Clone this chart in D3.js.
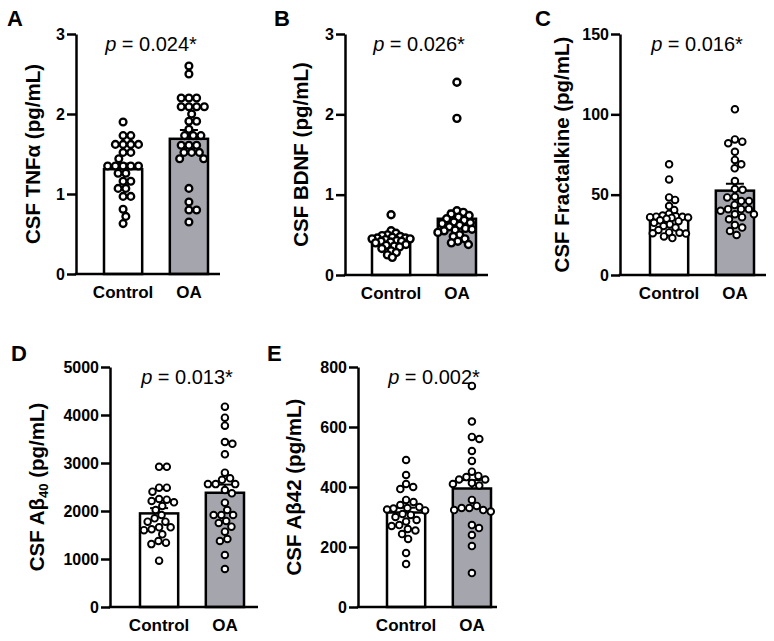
<!DOCTYPE html>
<html><head><meta charset="utf-8">
<script src="https://cdn.jsdelivr.net/npm/d3@7"></script>
<style>
body{margin:0;background:#fff}
svg{display:block}
text{font-family:"Liberation Sans",Arial,sans-serif}
</style>
</head><body>
<svg id="chart" width="774" height="641"></svg>
<script>
// ---------------- DATA ----------------
const groups = ["Control", "OA"];

// A: CSF TNFα (pg/mL)
const tnfControl = [1.90,1.73,1.73,1.62,1.62,1.62,1.62,1.52,1.52,1.44,1.35,1.35,1.35,1.35,1.35,1.26,1.26,1.16,1.16,1.07,1.07,0.97,0.97,0.81,0.72,0.63];
const tnfOA = [2.60,2.50,2.20,2.20,2.20,2.09,2.09,2.09,2.09,2.00,1.91,1.91,1.81,1.73,1.73,1.73,1.61,1.61,1.61,1.52,1.52,1.52,1.44,1.44,1.07,0.90,0.80,0.80,0.65];
const tnfMean = [1.31, 1.69];
const tnfSEM = [0.07, 0.11];
const tnfTicks = [0, 1, 2, 3];

// B: CSF BDNF (pg/mL)
const bdnfControl = [0.75,0.55,0.52,0.50,0.49,0.48,0.47,0.46,0.46,0.45,0.45,0.44,0.43,0.42,0.42,0.41,0.40,0.38,0.37,0.36,0.35,0.33,0.30,0.28,0.25,0.22];
const bdnfOA = [2.40,1.95,0.80,0.78,0.76,0.74,0.72,0.70,0.68,0.66,0.65,0.64,0.62,0.60,0.58,0.57,0.56,0.55,0.53,0.50,0.48,0.45,0.42,0.40,0.38];
const bdnfMean = [0.43, 0.70];
const bdnfSEM = [0.03, 0.10];
const bdnfTicks = [0, 1, 2, 3];

// C: CSF Fractalkine (pg/mL)
const fktControl = [68.9,59.5,48.3,46.7,42.9,40.4,38,37,36.5,36.3,36.2,36,35.8,35.5,35,34,33.5,32.5,31.5,30.5,29.5,28,26.5,26.3,26,25.8,24,23];
const fktOA = [103.1,84.4,83,82,76.7,71.6,68.9,66.4,58.5,53.5,53,48.7,48.3,46,46,43.6,41,41,41,40,37.8,37.8,36,34.7,31.1,29.5,27.4,24.9];
const fktMean = [36.3, 52.5];
const fktSEM = [2.1, 4.3];
const fktTicks = [0, 50, 100, 150];

// D: CSF Aβ40 (pg/mL)
const ab40Control = [2920,2920,2486,2486,2403,2250,2236,2208,2180,2104,2021,1917,1847,1778,1778,1660,1660,1620,1600,1514,1375,1340,1310,965];
const ab40OA = [4174,3944,3778,3438,3400,3180,2799,2680,2650,2560,2560,2560,2437,2368,2174,2021,1917,1917,1917,1792,1750,1674,1569,1417,1375,1083,792];
const ab40Mean = [1950, 2380];
const ab40SEM = [110, 170];
const ab40Ticks = [0, 1000, 2000, 3000, 4000, 5000];

// E: CSF Aβ42 (pg/mL)
const ab42Control = [490,440,410,400,393,357,350,340,333,330,328,325,322,310,307,300,290,285,273,270,260,255,243,227,180,143];
const ab42OA = [737,618,567,560,520,487,451,437,433,425,425,413,410,405,357,337,330,330,323,323,318,273,263,240,203,113];
const ab42Mean = [315, 395];
const ab42SEM = [16, 28];
const ab42Ticks = [0, 200, 400, 600, 800];

const pValues = ["0.024*", "0.026*", "0.016*", "0.013*", "0.002*"];
const panelLetters = ["A", "B", "C", "D", "E"];

// ---------------- LAYOUT ----------------
const svg = d3.select("#chart");
const panels = [
  {letter: panelLetters[0], p: pValues[0], ctrl: tnfControl, oa: tnfOA, mean: tnfMean, sem: tnfSEM, ticks: tnfTicks,
   axisX: 76, top: 34, bot: 274, barStart: 104, axisEnd: 220, lx: 7, ly: 26, ylx: 33, title: [["CSF TNFα (pg/mL)", false]], letterFont: "Liberation Sans", r: 3.4, sw: 2.3, gap: [7.7, 7.7]},
  {letter: panelLetters[1], p: pValues[1], ctrl: bdnfControl, oa: bdnfOA, mean: bdnfMean, sem: bdnfSEM, ticks: bdnfTicks,
   axisX: 345, top: 34, bot: 275, barStart: 372, axisEnd: 488, lx: 274, ly: 26, ylx: 301, title: [["CSF BDNF (pg/mL)", false]], letterFont: "Lato", r: 3.5, sw: 2.4, gap: [5.4, 6.6]},
  {letter: panelLetters[2], p: pValues[2], ctrl: fktControl, oa: fktOA, mean: fktMean, sem: fktSEM, ticks: fktTicks,
   axisX: 620, top: 34, bot: 275, barStart: 650, axisEnd: 766, lx: 535, ly: 26, ylx: 562, title: [["CSF Fractalkine (pg/mL)", false]], letterFont: "Lato", r: 3.3, sw: 1.9, gap: [6.5, 7.7]},
  {letter: panelLetters[3], p: pValues[3], ctrl: ab40Control, oa: ab40OA, mean: ab40Mean, sem: ab40SEM, ticks: ab40Ticks,
   axisX: 110, top: 367, bot: 607, barStart: 140, axisEnd: 258, lx: 11, ly: 361, ylx: 37, title: [["CSF Aβ", false], ["40", true], [" (pg/mL)", false]], letterFont: "Liberation Sans", r: 3.3, sw: 1.9, gap: [7.7, 7.7]},
  {letter: panelLetters[4], p: pValues[4], ctrl: ab42Control, oa: ab42OA, mean: ab42Mean, sem: ab42SEM, ticks: ab42Ticks,
   axisX: 358, top: 367, bot: 607, barStart: 387, axisEnd: 497, lx: 267, ly: 361, ylx: 294, title: [["CSF Aβ42 (pg/mL)", false]], letterFont: "Lato", r: 3.3, sw: 1.9, gap: [7.7, 7.7]}
];

// deterministic beeswarm offsets
function swarm(ys, D, maxOff) {
  const idx = ys.map((y, i) => i).sort((a, b) => ys[a] - ys[b]);
  const placed = [];
  const xs = new Array(ys.length).fill(0);
  idx.forEach(i => {
    const y = ys[i];
    const near = placed.filter(p => Math.abs(p.y - y) < D);
    let cands = [0];
    near.forEach(p => {
      const dx = Math.sqrt(D * D - (p.y - y) * (p.y - y));
      cands.push(p.x + dx + 0.01, p.x - dx - 0.01);
    });
    cands = cands.filter(c => Math.abs(c) <= maxOff);
    cands.sort((a, b) => Math.abs(a) - Math.abs(b) || b - a);
    let best = null;
    for (const c of cands) {
      if (near.every(p => Math.hypot(p.x - c, p.y - y) >= D - 0.02)) { best = c; break; }
    }
    if (best === null) {
      let bestScore = -1;
      for (let c = -maxOff; c <= maxOff; c += 0.5) {
        const m = near.length ? Math.min(...near.map(p => Math.hypot(p.x - c, p.y - y))) : 99;
        if (m > bestScore) { bestScore = m; best = c; }
      }
    }
    xs[i] = best;
    placed.push({x: best, y: y});
  });
  return xs;
}

panels.forEach(P => {
  const g = svg.append("g");
  const y = d3.scaleLinear().domain([P.ticks[0], P.ticks[P.ticks.length - 1]]).range([P.bot, P.top]);
  const x = d3.scaleBand().domain(groups).range([P.barStart, P.barStart + 104]).paddingInner(0.42).paddingOuter(0);
  const bw = x.bandwidth();

  // bars
  g.selectAll("rect.bar").data(groups).enter().append("rect")
    .attr("x", d => x(d)).attr("width", bw)
    .attr("y", (d, i) => y(P.mean[i])).attr("height", (d, i) => y(0) - y(P.mean[i]))
    .attr("fill", (d, i) => i === 0 ? "#ffffff" : "#a5a5ad")
    .attr("stroke", "#000").attr("stroke-width", 2.5);

  // error bars (mean + SEM)
  groups.forEach((gName, i) => {
    const cx = x(gName) + bw / 2;
    g.append("line").attr("x1", cx).attr("x2", cx).attr("y1", y(P.mean[i])).attr("y2", y(P.mean[i] + P.sem[i]))
      .attr("stroke", "#000").attr("stroke-width", 2);
    g.append("line").attr("x1", cx - 9).attr("x2", cx + 9).attr("y1", y(P.mean[i] + P.sem[i])).attr("y2", y(P.mean[i] + P.sem[i]))
      .attr("stroke", "#000").attr("stroke-width", 2);
  });

  // points
  [P.ctrl, P.oa].forEach((vals, gi) => {
    const cx = x(groups[gi]) + bw / 2;
    const ys = vals.map(v => y(v));
    const offs = swarm(ys, P.gap[gi], 19);
    g.selectAll(null).data(vals).enter().append("circle")
      .attr("cx", (d, i) => cx + offs[i]).attr("cy", d => y(d)).attr("r", P.r)
      .attr("fill", "#fff").attr("stroke", "#000").attr("stroke-width", P.sw);
  });

  // y axis
  const ya = g.append("g").attr("transform", `translate(${P.axisX},0)`)
    .call(d3.axisLeft(y).tickValues(P.ticks).tickSize(9).tickPadding(2).tickSizeOuter(0).tickFormat(d3.format("d")));
  ya.select(".domain").attr("stroke-width", 2.5).attr("stroke", "#000");
  ya.selectAll(".tick line").attr("stroke-width", 2.5).attr("stroke", "#000");
  ya.selectAll(".tick text").attr("font-size", 16).attr("font-weight", "bold").attr("fill", "#000")
    .attr("font-family", "Liberation Sans, Arial, sans-serif");

  // x axis line
  g.append("line").attr("x1", P.axisX - 1.25).attr("x2", P.axisEnd).attr("y1", P.bot).attr("y2", P.bot)
    .attr("stroke", "#000").attr("stroke-width", 2.5);
  const xa = g.append("g").attr("transform", `translate(0,${P.bot})`)
    .call(d3.axisBottom(x).tickSize(0).tickPadding(0));
  xa.select(".domain").remove();
  xa.selectAll(".tick text").attr("font-size", 17).attr("font-weight", "bold").attr("fill", "#000")
    .attr("dy", null).attr("y", 24).attr("font-family", "Liberation Sans, Arial, sans-serif");

  // y axis title
  const cy = (P.top + P.bot) / 2;
  const t = g.append("text").attr("transform", `translate(${P.ylx + 7},${cy}) rotate(-90)`)
    .attr("text-anchor", "middle").attr("font-size", 20.5).attr("font-weight", "bold").attr("fill", "#000");
  P.title.forEach(([s, sub]) => {
    const ts = t.append("tspan").text(s);
    if (sub) ts.attr("font-size", 13).attr("dy", 4);
    else if (t.selectAll("tspan").size() > 1) ts.attr("dy", -4);
  });

  // p-value
  const mid = (x(groups[0]) + x(groups[1]) + bw) / 2 - 5;
  const pt = g.append("text").attr("x", mid).attr("y", P.top + 17).attr("text-anchor", "middle")
    .attr("font-size", 20).attr("fill", "#000");
  pt.append("tspan").attr("font-style", "italic").text("p");
  pt.append("tspan").text(" = " + P.p);

  // panel letter
  g.append("text").attr("x", P.lx).attr("y", P.ly).attr("font-size", 22).attr("font-weight", "bold")
    .attr("font-family", P.letterFont).attr("fill", "#000").text(P.letter);
});
</script>
</body></html>
